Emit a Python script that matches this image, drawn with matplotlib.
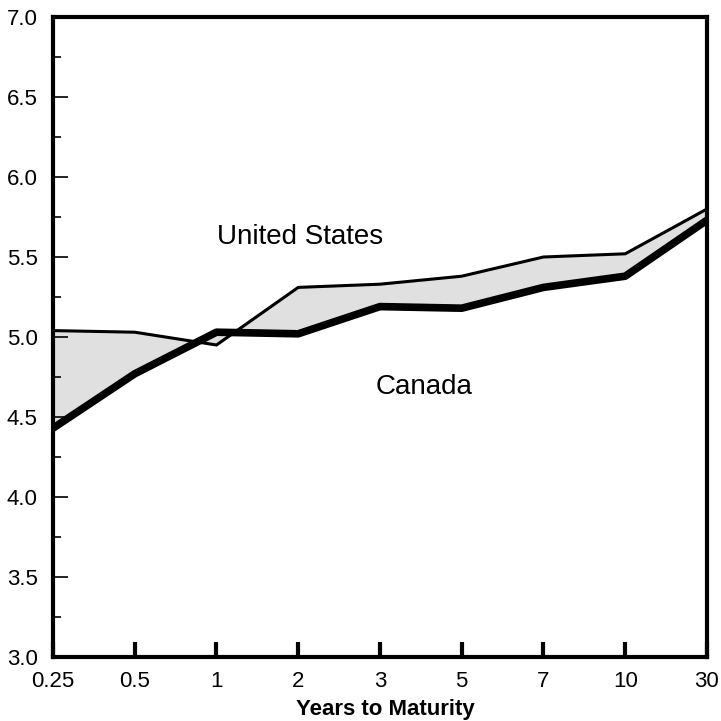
import matplotlib.pyplot as plt
import numpy as np

plt.rcParams['font.family'] = ['Liberation Sans', 'DejaVu Sans']

maturities = ["0.25", "0.5", "1", "2", "3", "5", "7", "10", "30"]
us_yield = [5.04, 5.03, 4.95, 5.31, 5.33, 5.38, 5.50, 5.52, 5.80]
canada_yield = [4.43, 4.77, 5.03, 5.02, 5.19, 5.18, 5.31, 5.38, 5.73]

x = np.arange(len(maturities))

fig = plt.figure(figsize=(7.21, 7.21), dpi=100)
ax = fig.add_axes([0.0735, 0.0888, 0.907, 0.8876])

ax.fill_between(x, us_yield, canada_yield, color="#e0e0e0", linewidth=0)
ax.plot(x, us_yield, color="black", linewidth=2.2, solid_joinstyle="miter")
ax.plot(x, canada_yield, color="black", linewidth=5.5, solid_capstyle="round")

ax.text(3.02, 5.58, "United States", fontsize=20, ha="center", va="baseline")
ax.text(4.54, 4.645, "Canada", fontsize=20, ha="center", va="baseline")

ax.set_xlim(0, len(maturities) - 1)
ax.set_ylim(3.0, 7.0)
ax.set_xticks(x)
ax.set_xticklabels(maturities)
ax.set_yticks(np.arange(3.0, 7.01, 0.5))
ax.set_yticklabels([f"{v:.1f}" for v in np.arange(3.0, 7.01, 0.5)])
ax.set_yticks(np.arange(3.25, 7.0, 0.5), minor=True)

ax.tick_params(axis="y", which="major", direction="in", length=11, width=1.2,
               labelsize=16, pad=11)
ax.tick_params(axis="y", which="minor", direction="in", length=6, width=1.2)
ax.tick_params(axis="x", which="major", direction="in", length=11, width=3,
               labelsize=16, pad=10)

for side in ax.spines.values():
    side.set_linewidth(3)

# label sits near the bottom edge like the original
ax.set_xlabel("Years to Maturity", fontsize=16, fontweight="bold", va="baseline")
ax.xaxis.set_label_coords(0.509, -(715 - 657) / 640)

fig.savefig("out.png", dpi=100)
